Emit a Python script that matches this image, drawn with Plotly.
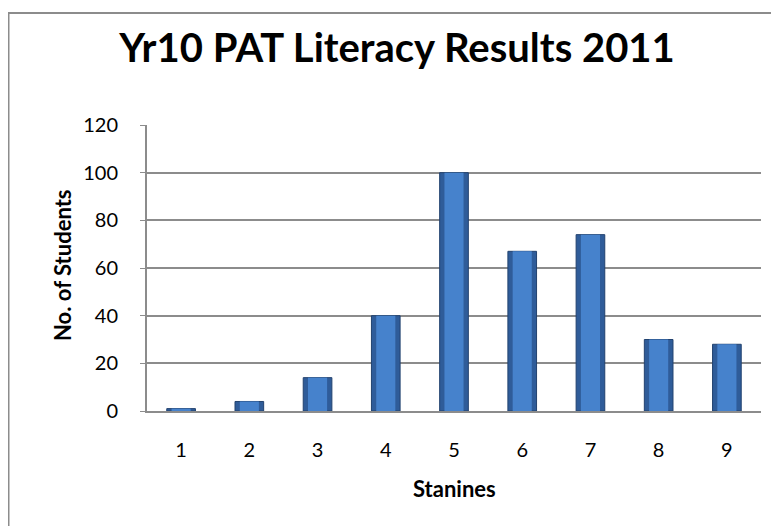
import plotly.graph_objects as go

stanines = ["1", "2", "3", "4", "5", "6", "7", "8", "9"]
students = [1, 4, 14, 40, 100, 67, 74, 30, 28]
y_ticks = [0, 20, 40, 60, 80, 100, 120]

FONT = "Lato, 'Open Sans', sans-serif"

# page body has an 8px margin; figure coordinates are offset accordingly
W, H = 771, 518
L, R, T, B = 139, 18, 117, 115
PW, PH = W - L - R, H - T - B

fig = go.Figure()
fig.add_trace(go.Bar(
    x=stanines, y=students,
    marker=dict(color="#2f5c99", line=dict(color="#22426f", width=1)),
    width=0.42,
))
fig.add_trace(go.Bar(
    x=stanines, y=students,
    marker=dict(color="#4682cc", line=dict(width=0)),
    width=0.28,
    hoverinfo="skip",
))

fig.update_layout(
    width=W, height=H,
    margin=dict(l=L, r=R, t=T, b=B),
    paper_bgcolor="white", plot_bgcolor="white",
    showlegend=False, barmode="overlay",
    title=dict(text="<b>Yr10 PAT Literacy Results 2011</b>",
               x=389 / W, xanchor="center", xref="container",
               y=1 - 40 / H, yanchor="middle", yref="container",
               font=dict(family=FONT, size=40, color="black")),
    font=dict(family=FONT, color="black"),
    xaxis=dict(
        type="category",
        showgrid=False, showline=True, linecolor="#8c8c8c", linewidth=2,
        ticks="", tickfont=dict(size=20, color="black"),
        ticklabelstandoff=20,
    ),
    yaxis=dict(
        range=[0, 120], tickvals=y_ticks,
        showgrid=True, gridcolor="#8c8c8c", gridwidth=1.6,
        showline=True, linecolor="#8c8c8c", linewidth=2,
        ticks="outside", ticklen=5, tickcolor="#8c8c8c",
        tickfont=dict(size=20, color="black"),
        ticklabelstandoff=18,
        zeroline=False,
    ),
    annotations=[
        dict(text="<b>Stanines</b>", xref="paper", yref="paper",
             x=(446 - L) / PW, y=-(480 - (H - B)) / PH,
             xanchor="center", yanchor="middle", showarrow=False,
             font=dict(family=FONT, size=22, color="black")),
        dict(text="<b>No. of Students</b>", xref="paper", yref="paper",
             x=(54 - L) / PW, y=(H - B - 257) / PH, textangle=-90,
             xanchor="center", yanchor="middle", showarrow=False,
             font=dict(family=FONT, size=22, color="black")),
    ],
    shapes=[dict(type="rect", xref="paper", yref="paper",
                 x0=(0.5 - L) / PW, x1=1.2, y0=-0.6, y1=1 + (T - 5) / PH,
                 line=dict(color="#8c8c8c", width=2), layer="below")],
)

fig.write_html("out.html")
